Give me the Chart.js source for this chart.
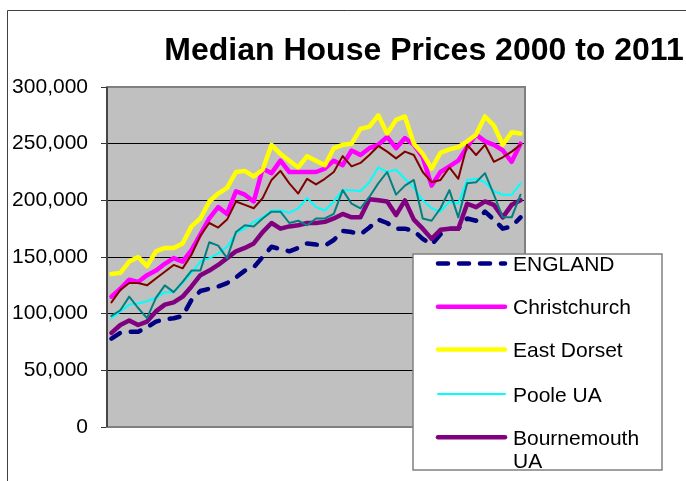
<!DOCTYPE html>
<html>
<head>
<meta charset="utf-8">
<script src="https://cdn.jsdelivr.net/npm/chart.js@4.4.1/dist/chart.umd.min.js"></script>
<style>
  html, body { margin: 0; padding: 0; background: #ffffff; }
  #wrap { width: 686px; height: 481px; position: relative; }
</style>
</head>
<body>
<div id="wrap"><canvas id="c" width="686" height="481"></canvas></div>
<script>
const chartTitle = "Median House Prices 2000 to 2011";

const quarters = [
  "2000 Q1","2000 Q2","2000 Q3","2000 Q4",
  "2001 Q1","2001 Q2","2001 Q3","2001 Q4",
  "2002 Q1","2002 Q2","2002 Q3","2002 Q4",
  "2003 Q1","2003 Q2","2003 Q3","2003 Q4",
  "2004 Q1","2004 Q2","2004 Q3","2004 Q4",
  "2005 Q1","2005 Q2","2005 Q3","2005 Q4",
  "2006 Q1","2006 Q2","2006 Q3","2006 Q4",
  "2007 Q1","2007 Q2","2007 Q3","2007 Q4",
  "2008 Q1","2008 Q2","2008 Q3","2008 Q4",
  "2009 Q1","2009 Q2","2009 Q3","2009 Q4",
  "2010 Q1","2010 Q2","2010 Q3","2010 Q4",
  "2011 Q1","2011 Q2","2011 Q3"
];

const yTicks = [0, 50000, 100000, 150000, 200000, 250000, 300000];

const england = [78000,83000,84000,84000,88000,93000,95000,96000,98000,112000,
  120000,122000,124000,127000,132000,138000,141000,150000,159000,157000,
  155000,158000,162000,161000,160000,165000,173000,172000,170000,176000,
  183000,180000,175000,175000,173000,166000,161000,170000,175000,175000,
  184000,182000,190000,183000,175000,177000,185000];

const christchurch = [115000,122000,130000,128000,134000,138000,144000,149000,146000,156000,
  170000,184000,194000,188000,208000,205000,199000,228000,224000,235000,
  225000,225000,225000,225000,228000,235000,231000,244000,240000,246000,
  249000,256000,246000,255000,249000,238000,213000,225000,230000,235000,
  247000,258000,252000,249000,244000,234000,250000];

const eastDorset = [135000,136000,146000,150000,142000,155000,158000,158000,162000,177000,
  184000,199000,206000,211000,225000,226000,221000,227000,249000,241000,
  235000,229000,239000,235000,231000,246000,249000,250000,263000,265000,
  275000,259000,271000,274000,250000,241000,228000,242000,245000,247000,
  252000,258000,274000,266000,249000,260000,259000];

const poole = [96000,102000,108000,109000,111000,114000,119000,119000,127000,136000,
  146000,149000,153000,159000,171000,175000,181000,185000,191000,191000,
  189000,193000,202000,194000,191000,199000,209000,209000,208000,216000,
  229000,225000,227000,219000,211000,200000,193000,190000,199000,197000,
  218000,219000,216000,208000,205000,205000,215000];

const bournemouth = [83000,90000,94000,90000,93000,102000,108000,110000,115000,124000,
  134000,138000,143000,149000,155000,158000,162000,172000,180000,175000,
  177000,178000,180000,180000,181000,184000,188000,185000,185000,201000,
  200000,199000,187000,200000,183000,175000,166000,174000,175000,175000,
  197000,194000,199000,196000,185000,196000,200000];

/* two further series whose legend entries are cut off in the original */
const series6 = [110000,121000,127000,127000,125000,131000,137000,143000,140000,152000,
  169000,180000,176000,183000,199000,196000,193000,202000,218000,226000,
  215000,206000,219000,214000,219000,225000,239000,230000,233000,240000,
  248000,243000,237000,243000,240000,225000,216000,218000,229000,219000,
  249000,240000,249000,234000,238000,243000,249000];

const series7 = [98000,103000,115000,105000,96000,114000,125000,119000,128000,138000,
  138000,163000,160000,149000,172000,178000,177000,184000,190000,190000,
  180000,182000,178000,184000,184000,188000,209000,197000,193000,203000,
  215000,225000,205000,213000,218000,184000,182000,193000,209000,185000,
  215000,216000,224000,205000,185000,185000,205000];

const seriesNames = ["ENGLAND", "Christchurch", "East Dorset", "Poole UA", "Bournemouth UA", "Series 6", "Series 7"];
const seriesColors = ["#000080", "#FF00FF", "#FFFF00", "#00FFFF", "#800080", "#800000", "#008080"];
const seriesData = [england, christchurch, eastDorset, poole, bournemouth, series6, series7];
const seriesWidths = [4.5, 4.5, 4.5, 2, 4.5, 2, 2];
const seriesInLegend = [true, true, true, true, true, false, false];

const FONT = "'Liberation Sans', Arial, 'DejaVu Sans', sans-serif";

function fmt(v) {
  const s = String(Math.round(v));
  return s.replace(/\B(?=(\d{3})+(?!\d))/g, ",");
}

const datasets = seriesData.map((d, i) => ({
  label: seriesNames[i],
  data: d,
  borderColor: seriesColors[i],
  backgroundColor: seriesColors[i],
  borderWidth: seriesWidths[i],
  borderDash: i === 0 ? [10, 11] : [],
  borderCapStyle: 'round',
  borderJoinStyle: 'round',
  pointRadius: 0,
  pointHoverRadius: 0,
  tension: 0,
  fill: false,
  order: seriesData.length - i,
  inLegend: seriesInLegend[i]
}));

const decor = {
  id: 'decor',
  beforeDraw(chart) {
    const ctx = chart.ctx;
    const a = chart.chartArea;
    ctx.save();
    ctx.fillStyle = '#ffffff';
    ctx.fillRect(0, 0, chart.width, chart.height);
    ctx.fillStyle = '#C0C0C0';
    ctx.fillRect(a.left, a.top, a.right - a.left, a.bottom - a.top);
    ctx.restore();
  },
  beforeDatasetsDraw(chart) {
    const ctx = chart.ctx;
    const a = chart.chartArea;
    ctx.save();
    ctx.strokeStyle = '#808080';
    ctx.lineWidth = 2;
    ctx.strokeRect(a.left, a.top, a.right - a.left, a.bottom - a.top);
    ctx.strokeStyle = '#333333';
    ctx.lineWidth = 1.5;
    ctx.beginPath();
    ctx.moveTo(a.left, a.top);
    ctx.lineTo(a.left, a.bottom);
    ctx.stroke();
    ctx.restore();
  },
  afterDraw(chart) {
    const ctx = chart.ctx;
    ctx.save();
    // outer chart border
    ctx.strokeStyle = '#404040';
    ctx.lineWidth = 1;
    ctx.beginPath();
    ctx.moveTo(7.5, chart.height + 2);
    ctx.lineTo(7.5, 10.5);
    ctx.lineTo(chart.width + 2, 10.5);
    ctx.stroke();

    // title
    ctx.fillStyle = '#000000';
    ctx.font = "bold 32px " + FONT;
    ctx.textAlign = 'center';
    ctx.textBaseline = 'alphabetic';
    ctx.fillText(chartTitle, 424, 60);

    // legend box
    const bx = 413, by = 254, bw = 249, bh = 216;
    ctx.fillStyle = '#ffffff';
    ctx.fillRect(bx, by, bw, bh);
    ctx.strokeStyle = '#808080';
    ctx.lineWidth = 1.5;
    ctx.strokeRect(bx, by, bw, bh);

    const rowY = [263.5, 306.7, 349.5, 394, 437.3];
    ctx.font = "21px " + FONT;
    ctx.textAlign = 'left';
    let r = 0;
    chart.data.datasets.forEach((ds) => {
      if (!ds.inLegend || r >= rowY.length) return;
      const y = rowY[r];
      ctx.save();
      ctx.strokeStyle = ds.borderColor;
      ctx.lineWidth = ds.borderWidth;
      ctx.lineCap = 'round';
      ctx.setLineDash(ds.borderDash || []);
      ctx.beginPath();
      ctx.moveTo(438, y);
      ctx.lineTo(505, y);
      ctx.stroke();
      ctx.restore();
      // wrap text
      const words = ds.label.split(' ');
      const lines = [];
      let cur = '';
      words.forEach(w => {
        const t = cur ? cur + ' ' + w : w;
        if (ctx.measureText(t).width > 140 && cur) { lines.push(cur); cur = w; }
        else cur = t;
      });
      if (cur) lines.push(cur);
      ctx.fillStyle = '#000000';
      lines.forEach((ln, k) => ctx.fillText(ln, 513, y + 7.5 + k * 23.5));
      r++;
    });
    ctx.restore();
  }
};

new Chart(document.getElementById('c'), {
  type: 'line',
  data: { labels: quarters, datasets: datasets },
  options: {
    responsive: false,
    animation: false,
    devicePixelRatio: 1,
    layout: { padding: { left: 0, top: 87, right: 161, bottom: 54 } },
    plugins: {
      legend: { display: false },
      title: { display: false },
      tooltip: { enabled: false }
    },
    scales: {
      x: {
        type: 'category',
        display: false,
        offset: true
      },
      y: {
        min: 0,
        max: 300000,
        afterBuildTicks(scale) {
          scale.ticks = yTicks.map(v => ({ value: v }));
        },
        afterFit(scale) { scale.width = 107; },
        ticks: {
          callback: (v) => fmt(v),
          color: '#000000',
          font: { family: FONT, size: 21 },
          padding: 13
        },
        grid: {
          color: '#000000',
          lineWidth: 1,
          drawOnChartArea: true,
          drawTicks: true,
          tickLength: 6,
          tickColor: '#333333'
        },
        border: { display: true, color: '#333333', width: 1.5 }
      }
    }
  },
  plugins: [decor]
});
</script>
</body>
</html>
